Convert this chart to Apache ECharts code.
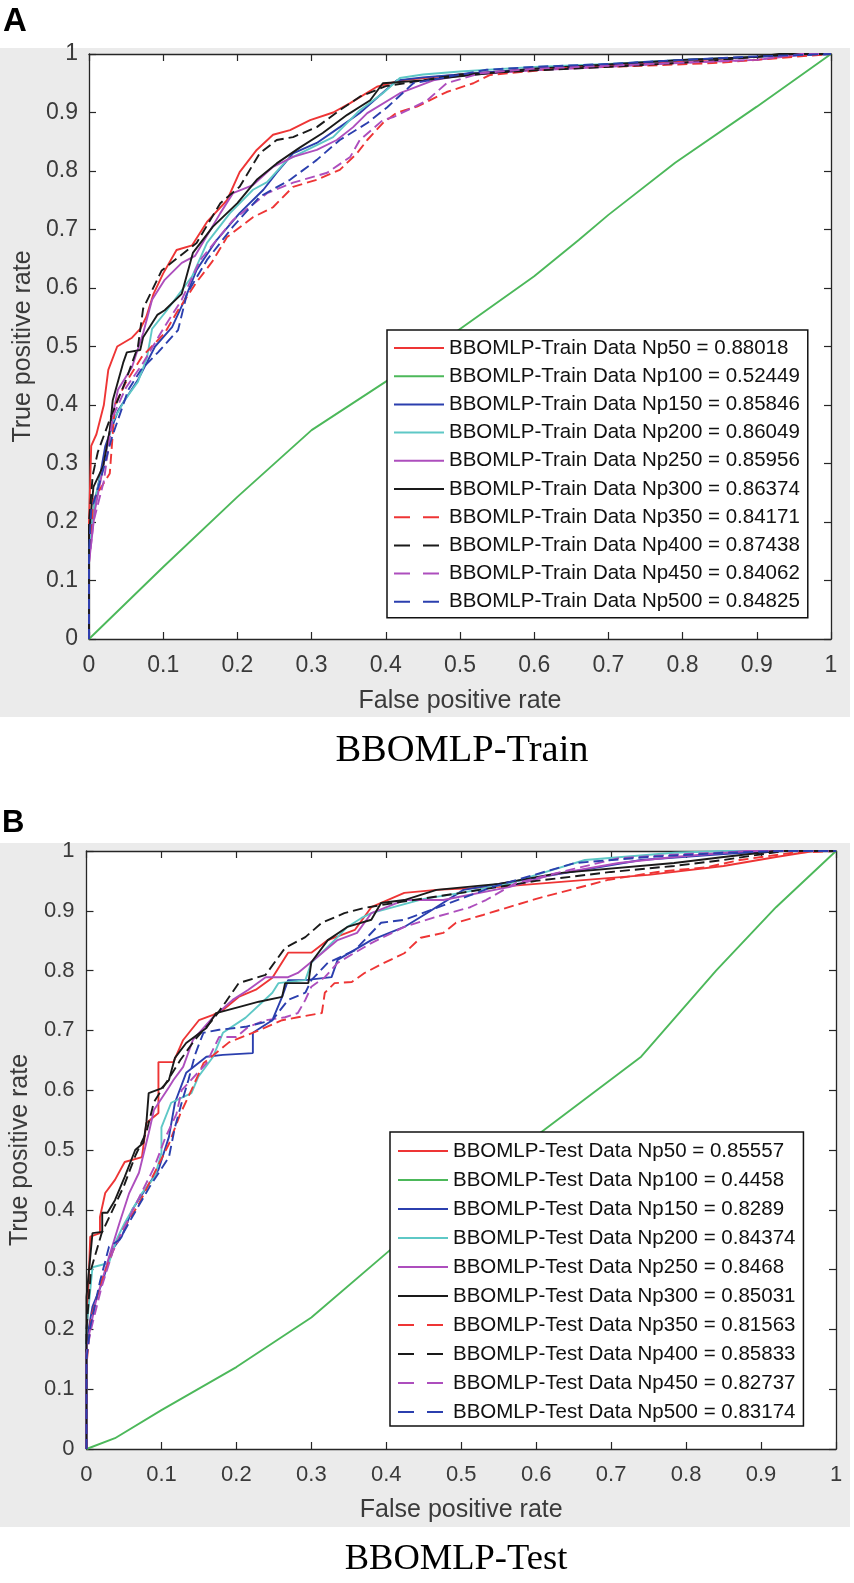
<!DOCTYPE html>
<html>
<head>
<meta charset="utf-8">
<script src="https://cdn.jsdelivr.net/npm/echarts@6/dist/echarts.min.js"></script>
<style>
html,body{margin:0;padding:0;background:#fff;}
#chart{width:854px;height:1583px;}
</style>
</head>
<body>
<div id="chart"></div>
<script>
// ---------- data ----------
const npSizes = [50, 100, 150, 200, 250, 300, 350, 400, 450, 500];
const trainAuc = ['0.88018', '0.52449', '0.85846', '0.86049', '0.85956', '0.86374', '0.84171', '0.87438', '0.84062', '0.84825'];
const testAuc = ['0.85557', '0.4458', '0.8289', '0.84374', '0.8468', '0.85031', '0.81563', '0.85833', '0.82737', '0.83174'];
const axisMin = 0, axisMax = 1, axisStep = 0.1;

// Panel A (train) ROC curves [FPR, TPR]
const trainNp50 = [[0,0],[0,0.2],[0.003,0.33],[0.01,0.35],[0.02,0.4],[0.026,0.46],[0.038,0.5],[0.058,0.515],[0.069,0.53],[0.077,0.55],[0.087,0.59],[0.1,0.625],[0.118,0.665],[0.139,0.673],[0.159,0.713],[0.186,0.75],[0.203,0.798],[0.226,0.836],[0.248,0.862],[0.271,0.87],[0.298,0.887],[0.329,0.9],[0.352,0.916],[0.388,0.944],[0.42,0.955],[0.5,0.965],[0.6,0.975],[0.7,0.98],[0.8,0.988],[0.9,0.995],[0.95,1],[1,1]];
const trainNp100 = [[0,0],[0.1,0.123],[0.2,0.243],[0.3,0.357],[0.4,0.44],[0.5,0.53],[0.6,0.62],[0.66,0.682],[0.7,0.725],[0.79,0.814],[0.9,0.91],[1,1]];
const trainNp150 = [[0,0],[0,0.14],[0.006,0.22],[0.015,0.28],[0.022,0.33],[0.039,0.39],[0.066,0.443],[0.089,0.5],[0.112,0.533],[0.129,0.58],[0.145,0.631],[0.172,0.682],[0.203,0.728],[0.235,0.768],[0.253,0.797],[0.275,0.83],[0.307,0.848],[0.338,0.875],[0.365,0.899],[0.415,0.955],[0.45,0.96],[0.5,0.965],[0.6,0.975],[0.7,0.982],[0.8,0.99],[0.9,0.995],[1,1]];
const trainNp200 = [[0,0],[0,0.15],[0.008,0.24],[0.02,0.3],[0.031,0.37],[0.049,0.41],[0.066,0.44],[0.078,0.48],[0.085,0.53],[0.105,0.562],[0.139,0.62],[0.159,0.677],[0.19,0.728],[0.221,0.768],[0.24,0.781],[0.267,0.819],[0.294,0.836],[0.329,0.858],[0.365,0.904],[0.396,0.933],[0.419,0.959],[0.45,0.965],[0.5,0.97],[0.6,0.978],[0.7,0.983],[0.8,0.99],[0.9,0.995],[0.95,1],[1,1]];
const trainNp250 = [[0,0],[0,0.13],[0.008,0.22],[0.02,0.3],[0.03,0.37],[0.039,0.426],[0.058,0.465],[0.073,0.523],[0.085,0.58],[0.102,0.614],[0.125,0.643],[0.143,0.655],[0.177,0.728],[0.194,0.762],[0.221,0.776],[0.248,0.807],[0.275,0.824],[0.307,0.836],[0.334,0.853],[0.356,0.875],[0.375,0.899],[0.419,0.933],[0.464,0.955],[0.5,0.963],[0.6,0.972],[0.7,0.978],[0.8,0.985],[0.9,0.99],[0.97,1],[1,1]];
const trainNp300 = [[0,0],[0,0.18],[0.006,0.26],[0.019,0.295],[0.028,0.357],[0.032,0.408],[0.046,0.472],[0.051,0.49],[0.069,0.494],[0.073,0.516],[0.092,0.554],[0.102,0.562],[0.125,0.59],[0.14,0.66],[0.167,0.705],[0.2,0.745],[0.226,0.785],[0.253,0.813],[0.284,0.84],[0.315,0.865],[0.348,0.896],[0.379,0.921],[0.396,0.95],[0.45,0.955],[0.5,0.962],[0.6,0.975],[0.7,0.982],[0.8,0.99],[0.9,0.995],[0.93,1],[1,1]];
const trainNp350 = [[0,0],[0,0.14],[0.006,0.238],[0.028,0.283],[0.035,0.4],[0.049,0.437],[0.071,0.482],[0.102,0.523],[0.12,0.562],[0.145,0.61],[0.166,0.645],[0.186,0.687],[0.221,0.721],[0.248,0.738],[0.275,0.773],[0.307,0.785],[0.338,0.802],[0.361,0.83],[0.375,0.853],[0.396,0.882],[0.415,0.9],[0.442,0.91],[0.482,0.935],[0.518,0.95],[0.54,0.964],[0.639,0.976],[0.75,0.98],[0.85,0.985],[0.93,0.993],[1,1]];
const trainNp400 = [[0,0],[0,0.2],[0.005,0.28],[0.012,0.32],[0.028,0.375],[0.049,0.44],[0.066,0.5],[0.073,0.565],[0.098,0.63],[0.145,0.677],[0.177,0.745],[0.203,0.773],[0.23,0.83],[0.253,0.853],[0.275,0.858],[0.307,0.875],[0.338,0.904],[0.365,0.927],[0.4,0.945],[0.45,0.955],[0.5,0.965],[0.6,0.972],[0.7,0.978],[0.8,0.985],[0.9,0.995],[0.95,1],[1,1]];
const trainNp450 = [[0,0],[0,0.13],[0.006,0.2],[0.02,0.27],[0.032,0.38],[0.05,0.43],[0.072,0.47],[0.1,0.53],[0.125,0.58],[0.15,0.648],[0.194,0.716],[0.24,0.762],[0.275,0.78],[0.321,0.797],[0.352,0.824],[0.365,0.853],[0.396,0.887],[0.41,0.892],[0.455,0.92],[0.482,0.95],[0.527,0.967],[0.6,0.975],[0.7,0.98],[0.8,0.985],[0.9,0.99],[0.96,1],[1,1]];
const trainNp500 = [[0,0],[0,0.15],[0.003,0.22],[0.015,0.27],[0.031,0.345],[0.053,0.426],[0.07,0.46],[0.093,0.49],[0.12,0.528],[0.132,0.59],[0.159,0.648],[0.194,0.705],[0.23,0.756],[0.271,0.785],[0.307,0.819],[0.338,0.853],[0.375,0.882],[0.402,0.909],[0.437,0.95],[0.48,0.96],[0.536,0.973],[0.6,0.978],[0.7,0.983],[0.8,0.99],[0.9,0.996],[1,1]];

// Panel B (test) ROC curves [FPR, TPR]
const testNp50 = [[0,0],[0,0.18],[0.005,0.355],[0.018,0.361],[0.018,0.388],[0.025,0.428],[0.038,0.45],[0.051,0.48],[0.074,0.488],[0.08,0.545],[0.096,0.562],[0.096,0.647],[0.116,0.647],[0.129,0.684],[0.15,0.717],[0.169,0.726],[0.182,0.734],[0.203,0.756],[0.226,0.768],[0.248,0.788],[0.269,0.83],[0.3,0.83],[0.322,0.851],[0.358,0.868],[0.38,0.906],[0.424,0.93],[0.467,0.935],[0.55,0.94],[0.65,0.95],[0.75,0.96],[0.85,0.975],[0.92,0.99],[0.97,1],[1,1]];
const testNp100 = [[0,0],[0.038,0.018],[0.1,0.065],[0.2,0.137],[0.3,0.22],[0.41,0.338],[0.5,0.43],[0.61,0.533],[0.74,0.656],[0.84,0.8],[0.92,0.906],[1,1]];
const testNp150 = [[0,0],[0,0.18],[0.008,0.238],[0.021,0.278],[0.034,0.333],[0.047,0.355],[0.061,0.4],[0.078,0.433],[0.096,0.467],[0.11,0.522],[0.118,0.579],[0.133,0.629],[0.16,0.656],[0.182,0.659],[0.222,0.662],[0.222,0.696],[0.248,0.717],[0.261,0.756],[0.269,0.784],[0.292,0.784],[0.327,0.789],[0.335,0.818],[0.38,0.851],[0.424,0.873],[0.454,0.896],[0.503,0.935],[0.608,0.957],[0.74,0.985],[0.85,0.995],[0.916,1],[1,1]];
const testNp200 = [[0,0],[0,0.2],[0.008,0.304],[0.03,0.311],[0.04,0.35],[0.051,0.378],[0.074,0.428],[0.091,0.455],[0.1,0.495],[0.1,0.538],[0.113,0.579],[0.14,0.595],[0.149,0.622],[0.169,0.656],[0.182,0.696],[0.212,0.721],[0.248,0.763],[0.256,0.779],[0.292,0.784],[0.3,0.813],[0.335,0.856],[0.348,0.873],[0.367,0.888],[0.38,0.896],[0.45,0.92],[0.5,0.93],[0.565,0.946],[0.6,0.96],[0.665,0.985],[0.784,0.997],[0.85,1],[1,1]];
const testNp250 = [[0,0],[0,0.17],[0.012,0.244],[0.03,0.321],[0.044,0.378],[0.057,0.428],[0.07,0.462],[0.083,0.528],[0.09,0.567],[0.11,0.605],[0.116,0.617],[0.129,0.639],[0.142,0.684],[0.169,0.722],[0.195,0.751],[0.216,0.768],[0.239,0.789],[0.269,0.789],[0.282,0.796],[0.314,0.829],[0.335,0.851],[0.361,0.863],[0.38,0.896],[0.424,0.918],[0.476,0.918],[0.565,0.94],[0.62,0.96],[0.71,0.98],[0.784,0.99],[0.88,1],[1,1]];
const testNp300 = [[0,0],[0,0.254],[0.008,0.361],[0.021,0.363],[0.021,0.395],[0.028,0.395],[0.038,0.416],[0.051,0.455],[0.065,0.5],[0.076,0.512],[0.08,0.547],[0.083,0.595],[0.1,0.603],[0.11,0.617],[0.118,0.654],[0.133,0.679],[0.16,0.704],[0.173,0.729],[0.203,0.739],[0.23,0.748],[0.261,0.756],[0.265,0.779],[0.296,0.779],[0.3,0.814],[0.322,0.851],[0.348,0.873],[0.38,0.885],[0.393,0.913],[0.424,0.918],[0.467,0.935],[0.55,0.945],[0.63,0.963],[0.784,0.98],[0.85,0.99],[0.92,1],[1,1]];
const testNp350 = [[0,0],[0,0.14],[0.006,0.22],[0.02,0.28],[0.035,0.33],[0.05,0.37],[0.07,0.41],[0.09,0.46],[0.11,0.51],[0.125,0.56],[0.14,0.6],[0.156,0.645],[0.19,0.68],[0.23,0.7],[0.261,0.717],[0.282,0.722],[0.314,0.729],[0.318,0.763],[0.331,0.779],[0.354,0.781],[0.371,0.796],[0.397,0.813],[0.424,0.829],[0.446,0.855],[0.476,0.863],[0.493,0.88],[0.529,0.893],[0.6,0.92],[0.697,0.952],[0.762,0.965],[0.828,0.973],[0.872,0.985],[0.942,0.997],[1,1]];
const testNp400 = [[0,0],[0,0.2],[0.006,0.3],[0.02,0.36],[0.035,0.4],[0.05,0.44],[0.065,0.49],[0.08,0.53],[0.09,0.58],[0.105,0.61],[0.125,0.65],[0.145,0.685],[0.17,0.72],[0.186,0.748],[0.203,0.779],[0.239,0.793],[0.265,0.838],[0.292,0.856],[0.314,0.88],[0.344,0.896],[0.371,0.905],[0.42,0.915],[0.5,0.93],[0.6,0.95],[0.7,0.965],[0.784,0.975],[0.85,0.985],[0.93,1],[1,1]];
const testNp450 = [[0,0],[0,0.16],[0.006,0.2],[0.02,0.27],[0.035,0.33],[0.05,0.37],[0.07,0.42],[0.09,0.47],[0.105,0.52],[0.12,0.56],[0.127,0.6],[0.16,0.645],[0.177,0.689],[0.2,0.689],[0.216,0.706],[0.239,0.717],[0.265,0.722],[0.282,0.729],[0.292,0.751],[0.3,0.773],[0.318,0.789],[0.335,0.813],[0.38,0.846],[0.424,0.873],[0.467,0.89],[0.512,0.906],[0.533,0.918],[0.572,0.946],[0.65,0.97],[0.71,0.988],[0.8,0.995],[0.9,1],[1,1]];
const testNp500 = [[0,0],[0,0.15],[0.005,0.204],[0.018,0.28],[0.03,0.338],[0.044,0.35],[0.061,0.388],[0.085,0.44],[0.11,0.488],[0.118,0.538],[0.127,0.579],[0.136,0.617],[0.145,0.66],[0.156,0.696],[0.177,0.701],[0.212,0.706],[0.248,0.717],[0.269,0.751],[0.292,0.763],[0.3,0.784],[0.322,0.813],[0.358,0.834],[0.393,0.88],[0.424,0.885],[0.459,0.901],[0.542,0.94],[0.652,0.98],[0.75,0.99],[0.85,0.997],[0.93,1],[1,1]];

const trainCurves = [trainNp50, trainNp100, trainNp150, trainNp200, trainNp250, trainNp300, trainNp350, trainNp400, trainNp450, trainNp500];
const testCurves = [testNp50, testNp100, testNp150, testNp200, testNp250, testNp300, testNp350, testNp400, testNp450, testNp500];

// ---------- styles ----------
const lineColors = ['#ee3535', '#4cb85a', '#2b3fae', '#5ec8c6', '#ad4ebd', '#1a1a1a', '#ee3535', '#1a1a1a', '#ad4ebd', '#2b3fae'];
const dashed = [false, false, false, false, false, false, true, true, true, true];
const SANS = 'Liberation Sans, Arial, sans-serif';
const SERIF = 'Liberation Serif, Times New Roman, serif';
const AX = '#262626';
const LBL = '#3a3a3a';

const chart = echarts.init(document.getElementById('chart'), null, {renderer: 'canvas', width: 854, height: 1583});

function seriesFor(prefix, curves, aucs, gi) {
  return curves.map((d, i) => ({
    type: 'line',
    name: prefix + ' Data Np' + npSizes[i] + ' = ' + aucs[i],
    xAxisIndex: gi * 2,
    yAxisIndex: gi * 2,
    data: d,
    symbol: 'none',
    showSymbol: false,
    silent: true,
    animation: false,
    itemStyle: {color: lineColors[i]},
    lineStyle: {color: lineColors[i], width: 1.9, type: dashed[i] ? [10, 5] : 'solid'}
  }));
}

function legendFor(prefix, aucs, left, top, gap, pad) {
  return {
    orient: 'vertical',
    left: left, top: top,
    itemWidth: 50, itemHeight: 14, itemGap: gap,
    padding: pad,
    borderColor: '#111', borderWidth: 1.5, backgroundColor: '#fff',
    selectedMode: false,
    itemStyle: {opacity: 0},
    textStyle: {fontFamily: SANS, fontSize: 20.5, color: '#111', lineHeight: 22},
    data: aucs.map((a, i) => {
      const o = {name: prefix + ' Data Np' + npSizes[i] + ' = ' + a};
      if (dashed[i]) o.lineStyle = {type: [16, 13]};
      return o;
    })
  };
}

function axesFor(gi, labelSize, xMargin, yMargin, xGap, yGap) {
  const common = {
    type: 'value', gridIndex: gi, min: axisMin, max: axisMax, interval: axisStep,
    splitLine: {show: false},
    axisLine: {show: true, onZero: false, lineStyle: {color: AX, width: 1.3}},
    axisTick: {show: true, inside: true, length: 7, lineStyle: {color: AX, width: 1.2}}
  };
  const x = [
    Object.assign({}, common, {
      position: 'bottom',
      name: 'False positive rate', nameLocation: 'middle', nameGap: xGap,
      nameTextStyle: {fontFamily: SANS, fontSize: 25, color: LBL},
      axisLabel: {fontFamily: SANS, fontSize: labelSize, color: LBL, margin: xMargin}
    }),
    Object.assign({}, common, {position: 'top', axisLabel: {show: false}})
  ];
  const y = [
    Object.assign({}, common, {
      position: 'left',
      name: 'True positive rate', nameLocation: 'middle', nameGap: yGap,
      nameTextStyle: {fontFamily: SANS, fontSize: 25, color: LBL},
      axisLabel: {fontFamily: SANS, fontSize: labelSize, color: LBL, margin: yMargin}
    }),
    Object.assign({}, common, {position: 'right', axisLabel: {show: false}})
  ];
  return {x, y};
}

const axA = axesFor(0, 23, 15, 11, 50, 45);
const axB = axesFor(1, 22, 15, 12, 49, 52);

const option = {
  animation: false,
  backgroundColor: '#ffffff',
  grid: [
    {left: 89, top: 54, width: 742, height: 585, show: true, backgroundColor: '#ffffff', borderWidth: 0},
    {left: 79, top: 851, width: 757, height: 598, show: true, backgroundColor: '#ffffff', borderWidth: 0}
  ],
  xAxis: axA.x.concat(axB.x),
  yAxis: axA.y.concat(axB.y),
  legend: [
    legendFor('BBOMLP-Train', trainAuc, 387, 330, 6.2, [7, 8, 5, 6]),
    legendFor('BBOMLP-Test', testAuc, 390, 1132, 7, [8, 8, 3, 7])
  ],
  graphic: [
    {type: 'rect', z: -10, silent: true, shape: {x: 0, y: 48, width: 850, height: 669}, style: {fill: '#ebebeb'}},
    {type: 'rect', z: -10, silent: true, shape: {x: 0, y: 843, width: 850, height: 684}, style: {fill: '#ebebeb'}},
    {type: 'text', x: 3, y: 22, style: {text: 'A', font: 'bold 33px ' + SANS, fill: '#000', verticalAlign: 'middle'}},
    {type: 'text', x: 2, y: 823, style: {text: 'B', font: 'bold 31px ' + SANS, fill: '#000', verticalAlign: 'middle'}},
    {type: 'text', x: 462, y: 751, style: {text: 'BBOMLP-Train', font: '38.5px ' + SERIF, fill: '#000', align: 'center', verticalAlign: 'middle'}},
    {type: 'text', x: 456, y: 1559, style: {text: 'BBOMLP-Test', font: '36.5px ' + SERIF, fill: '#000', align: 'center', verticalAlign: 'middle'}}
  ],
  series: seriesFor('BBOMLP-Train', trainCurves, trainAuc, 0).concat(seriesFor('BBOMLP-Test', testCurves, testAuc, 1))
};
chart.setOption(option);
</script>
</body>
</html>
